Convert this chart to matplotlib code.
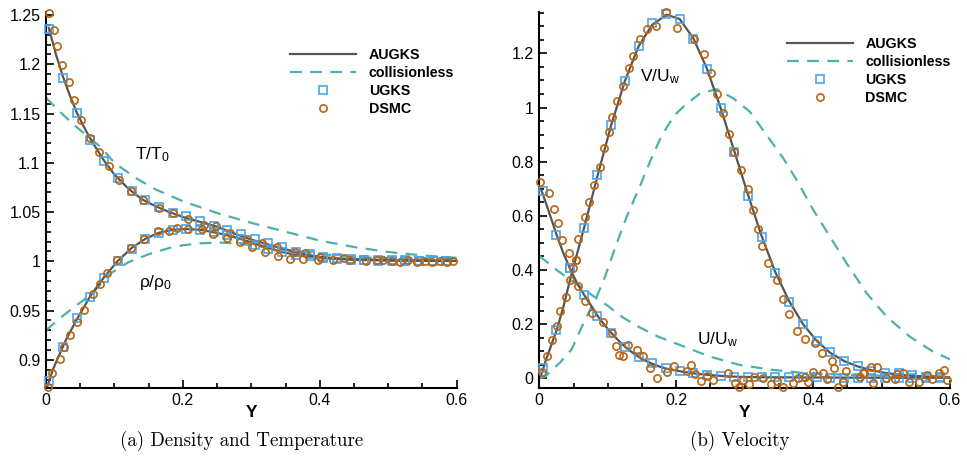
import matplotlib
matplotlib.use('Agg')
import matplotlib.pyplot as plt

plt.rcParams['font.family'] = ['Liberation Sans', 'DejaVu Sans']
plt.rcParams['mathtext.fontset'] = 'custom'
plt.rcParams['mathtext.rm'] = 'Liberation Sans'
plt.rcParams['mathtext.it'] = 'Liberation Sans:italic'
plt.rcParams['lines.scale_dashes'] = False

# ---------------- (a) density and temperature ----------------
# AUGKS temperature
aug_T_y = [0.004, 0.015, 0.025, 0.035, 0.045, 0.055, 0.065, 0.075, 0.085, 0.10, 0.12,
           0.14, 0.16, 0.18, 0.20, 0.22, 0.25, 0.28, 0.30, 0.32, 0.34, 0.36, 0.38,
           0.40, 0.43, 0.46, 0.50, 0.55, 0.60]
aug_T = [1.237, 1.209, 1.187, 1.168, 1.151, 1.137, 1.124, 1.113, 1.102, 1.088, 1.074,
         1.063, 1.056, 1.050, 1.045, 1.041, 1.035, 1.027, 1.022, 1.018, 1.014, 1.010,
         1.0068, 1.0045, 1.0028, 1.002, 1.0012, 1.0008, 1.0005]
# AUGKS density
aug_rho_y = [0.002, 0.01, 0.02, 0.03, 0.045, 0.065, 0.085, 0.105, 0.125, 0.145, 0.165,
             0.185, 0.205, 0.225, 0.245, 0.265, 0.285, 0.305, 0.325, 0.345, 0.365,
             0.385, 0.41, 0.45, 0.50, 0.60]
aug_rho = [0.873, 0.890, 0.906, 0.9215, 0.941, 0.965, 0.984, 1.0005, 1.0135, 1.0228, 1.029,
           1.032, 1.0328, 1.032, 1.0295, 1.0265, 1.0225, 1.018, 1.0135, 1.0095, 1.0065,
           1.0045, 1.003, 1.0015, 1.0008, 1.0004]
# collisionless temperature / density
free_T_y = [0.0, 0.02, 0.04, 0.064, 0.08, 0.10, 0.13, 0.16, 0.20, 0.25, 0.30, 0.35,
            0.40, 0.45, 0.50, 0.55, 0.60]
free_T = [1.166, 1.152, 1.139, 1.125, 1.116, 1.100, 1.085, 1.073, 1.061, 1.049, 1.039,
          1.030, 1.021, 1.0145, 1.0095, 1.006, 1.0035]
free_rho_y = [0.0, 0.02, 0.04, 0.055, 0.075, 0.095, 0.12, 0.15, 0.18, 0.20, 0.225,
              0.255, 0.28, 0.32, 0.36, 0.40, 0.45, 0.50, 0.55, 0.60]
free_rho = [0.930, 0.942, 0.953, 0.9607, 0.973, 0.988, 0.999, 1.0072, 1.0135, 1.0163,
            1.0183, 1.019, 1.018, 1.015, 1.011, 1.0074, 1.0045, 1.003, 1.0025, 1.002]
# UGKS
ugks_y = [0.005, 0.025, 0.045, 0.065, 0.085, 0.105, 0.125, 0.145, 0.165, 0.185, 0.205,
          0.225, 0.245, 0.265, 0.285, 0.305, 0.325, 0.345, 0.365, 0.385, 0.405, 0.425,
          0.445, 0.465, 0.485, 0.505, 0.525, 0.545, 0.565, 0.585]
ugks_T = [1.236, 1.186, 1.151, 1.1234, 1.1018, 1.0843, 1.0714, 1.0622, 1.0554, 1.0487,
          1.046, 1.0412, 1.0358, 1.0318, 1.0274, 1.0223, 1.0183, 1.0142, 1.0095, 1.0075,
          1.0047, 1.003, 1.002, 1.0015, 1.0012, 1.001, 1.001, 1.0008, 1.0008, 1.0006]
ugks_rho = [0.879, 0.9133, 0.942, 0.964, 0.9834, 1.0003, 1.013, 1.0225, 1.029, 1.032,
            1.0328, 1.032, 1.030, 1.027, 1.023, 1.0165, 1.0122, 1.009, 1.0068, 1.005,
            1.0035, 1.0025, 1.0015, 1.001, 1.0007, 1.0006, 1.0005, 1.0005, 1.0005, 1.0005]
# DSMC
dsmc_T_y = [0.005, 0.011, 0.0165, 0.024, 0.033, 0.041, 0.051, 0.064, 0.078, 0.092, 0.107,
            0.124, 0.142, 0.165, 0.186, 0.208, 0.231, 0.249, 0.269, 0.293, 0.315, 0.337,
            0.364, 0.378, 0.400, 0.435, 0.483, 0.505, 0.529, 0.5537, 0.5756, 0.595]
dsmc_T = [1.2524, 1.2348, 1.219, 1.1993, 1.1823, 1.1638, 1.1434, 1.1255, 1.1108, 1.0965,
          1.0825, 1.0714, 1.0622, 1.0544, 1.0487, 1.043, 1.0369, 1.0358, 1.029, 1.0223,
          1.0183, 1.0148, 1.0097, 1.0081, 1.0047, 1.003, 1.0013, 1.0006, 1.0013, 1.0003,
          1.0006, 1.0006]
dsmc_rho_y = [0.003, 0.009, 0.0205, 0.027, 0.035, 0.046, 0.056, 0.068, 0.079, 0.089, 0.104,
              0.124, 0.143, 0.164, 0.179, 0.192, 0.208, 0.2275, 0.2445, 0.264, 0.2834,
              0.3005, 0.320, 0.339, 0.3565, 0.376, 0.398, 0.4197, 0.4447, 0.468, 0.493,
              0.517, 0.5415, 0.5634, 0.5853]
dsmc_rho = [0.8727, 0.8869, 0.9005, 0.9127, 0.9252, 0.9387, 0.9506, 0.9668, 0.977, 0.9884,
            1.0013, 1.014, 1.0228, 1.0311, 1.0311, 1.0335, 1.0328, 1.0325, 1.028, 1.024,
            1.0199, 1.0145, 1.0094, 1.0054, 1.002, 1.002, 1.0013, 1.0013, 1.0013, 1.0006,
            1.0013, 0.9996, 0.999, 0.9996, 0.999]

# ---------------- (b) velocity ----------------
aug_V_y = [0.0025, 0.01, 0.0254, 0.035, 0.045, 0.065, 0.085, 0.105, 0.125, 0.145, 0.165,
           0.186, 0.205, 0.225, 0.245, 0.265, 0.285, 0.305, 0.325, 0.345, 0.365, 0.385,
           0.405, 0.425, 0.445, 0.465, 0.485, 0.505, 0.53, 0.56, 0.60]
aug_V = [0.01, 0.07, 0.178, 0.262, 0.365, 0.552, 0.747, 0.935, 1.098, 1.226, 1.306,
         1.343, 1.327, 1.256, 1.143, 0.998, 0.838, 0.677, 0.524, 0.391, 0.285, 0.201,
         0.139, 0.094, 0.064, 0.044, 0.030, 0.020, 0.012, 0.007, 0.004]
aug_U_y = [0.003, 0.01, 0.0254, 0.035, 0.0448, 0.055, 0.0658, 0.075, 0.0853, 0.0955,
           0.1057, 0.1155, 0.1252, 0.135, 0.1447, 0.155, 0.1651, 0.175, 0.185, 0.2055,
           0.225, 0.245, 0.265, 0.285, 0.32, 0.40, 0.50, 0.60]
aug_U = [0.695, 0.645, 0.529, 0.463, 0.406, 0.352, 0.307, 0.271, 0.230, 0.196, 0.166,
         0.140, 0.117, 0.097, 0.080, 0.065, 0.0535, 0.044, 0.036, 0.026, 0.0185, 0.013,
         0.009, 0.006, 0.004, 0.003, 0.002, 0.002]
free_V_y = [0.0, 0.0083, 0.0302, 0.0473, 0.062, 0.074, 0.0838, 0.096, 0.113, 0.1277,
            0.1496, 0.1617, 0.179, 0.1977, 0.2129, 0.2348, 0.2592, 0.2834, 0.3078,
            0.3322, 0.3566, 0.3761, 0.4003, 0.4247, 0.449, 0.4783, 0.5075, 0.5415,
            0.5756, 0.60]
free_V = [0.0, 0.006, 0.058, 0.107, 0.19, 0.252, 0.301, 0.375, 0.498, 0.597, 0.725,
          0.80, 0.898, 0.972, 1.009, 1.052, 1.068, 1.034, 0.984, 0.898, 0.812, 0.732,
          0.6215, 0.523, 0.4247, 0.314, 0.2275, 0.1536, 0.098, 0.070]
free_U_y = [0.0, 0.0254, 0.0838, 0.0985, 0.1204, 0.1447, 0.1739, 0.2055, 0.2494, 0.2932,
            0.3419, 0.3907, 0.45, 0.50, 0.55, 0.60]
free_U = [0.452, 0.40, 0.295, 0.2707, 0.2275, 0.1906, 0.1536, 0.123, 0.080, 0.049,
          0.031, 0.0185, 0.013, 0.010, 0.008, 0.006]
ugks_V = [0.037, 0.178, 0.4085, 0.554, 0.7507, 0.935, 1.098, 1.227, 1.311, 1.345, 1.326,
          1.252, 1.141, 0.997, 0.837, 0.673, 0.5207, 0.39, 0.283, 0.2005, 0.139, 0.096,
          0.064, 0.0454, 0.028, 0.0207, 0.0185, 0.012, 0.0063, 0.0037]
ugks_U = [0.69, 0.529, 0.4085, 0.308, 0.230, 0.166, 0.117, 0.080, 0.0553, 0.037, 0.027,
          0.0185, 0.0122, 0.0086, 0.006, 0.004, 0.003, 0.003, 0.003, 0.003, 0.003, 0.002,
          0.002, 0.002, 0.002, 0.002, 0.002, 0.002, 0.002, 0.002]
dsmc_V_y = [0.0035, 0.0108, 0.0181, 0.0254, 0.0302, 0.039, 0.0448, 0.0487, 0.0536, 0.057,
            0.0668, 0.0726, 0.0804, 0.0887, 0.095, 0.1018, 0.1067, 0.113, 0.1227, 0.1315,
            0.1364, 0.1471, 0.1569, 0.170, 0.1847, 0.2007, 0.2259, 0.2405, 0.2504, 0.260,
            0.2688, 0.2771, 0.2844, 0.2942, 0.3044, 0.3126, 0.320, 0.3249, 0.3346, 0.3468,
            0.3566, 0.3653, 0.3769, 0.3882, 0.4028, 0.4126, 0.4272, 0.430, 0.4481, 0.4724,
            0.4846, 0.4929, 0.5221, 0.5309, 0.566, 0.5844, 0.5917]
dsmc_V = [0.024, 0.082, 0.141, 0.194, 0.25, 0.3015, 0.363, 0.406, 0.437, 0.513, 0.594,
          0.652, 0.714, 0.781, 0.849, 0.908, 0.964, 1.024, 1.0805, 1.147, 1.191, 1.252,
          1.289, 1.302, 1.352, 1.295, 1.253, 1.196, 1.126, 1.05, 0.979, 0.901, 0.835,
          0.770, 0.699, 0.6215, 0.551, 0.4886, 0.427, 0.363, 0.292, 0.237, 0.175, 0.145,
          0.1315, 0.0945, 0.064, 0.037, 0.027, 0.0207, 0.0428, 0.0428, 0.0148, 0.0207,
          0.012, 0.0207, 0.0306]
dsmc_U_y = [0.001, 0.0142, 0.0219, 0.0278, 0.0327, 0.0438, 0.0532, 0.0561, 0.0668, 0.0775,
            0.0935, 0.1057, 0.112, 0.1164, 0.1227, 0.130, 0.1423, 0.152, 0.1617, 0.1714,
            0.1861, 0.1972, 0.2153, 0.2216, 0.2275, 0.2358, 0.2454, 0.2542, 0.2761, 0.2859,
            0.2922, 0.2971, 0.3068, 0.3137, 0.3264, 0.3381, 0.3477, 0.3565, 0.3702, 0.3784,
            0.3882, 0.393, 0.4003, 0.4149, 0.4198, 0.4368, 0.4441, 0.4684, 0.4742, 0.488,
            0.5065, 0.5197, 0.5405, 0.555, 0.5733, 0.5951]
dsmc_U = [0.726, 0.685, 0.624, 0.575, 0.511, 0.4616, 0.437, 0.341, 0.287, 0.2424, 0.2068,
          0.166, 0.119, 0.086, 0.0835, 0.123, 0.1045, 0.0823, 0.0369, 0.0, 0.022, 0.0465,
          0.028, 0.049, 0.0159, -0.01, 0.0085, -0.006, 0.0207, -0.016, -0.031, -0.006,
          -0.021, 0.0037, 0.002, -0.021, -0.01, -0.031, -0.016, 0.002, 0.006, -0.0125,
          0.0244, 0.0185, -0.0037, -0.031, -0.0125, 0.006, 0.0185, -0.0185, 0.0, -0.0037,
          -0.0125, -0.0125, -0.0037, -0.006]

# ---------------- style ----------------
C_AUGKS = '#555555'
C_FREE = '#4db1ab'
C_UGKS = '#47a5f2'
C_DSMC = '#bb640f'
LW = 1.6
DASH = (8.5, 6.0)
MS = 5.2

fig = plt.figure(figsize=(9.67, 4.61), dpi=100)
ax1 = fig.add_axes([46 / 967, 73.3 / 461, 410.7 / 967, 376 / 461])
ax2 = fig.add_axes([539.3 / 967, 73.3 / 461, 410.7 / 967, 376 / 461])


def curves(ax, y_aug, v_aug, y_free, v_free, y_u, v_u, y_d, v_d, labelled):
    ax.plot(y_aug, v_aug, color=C_AUGKS, lw=LW, zorder=3,
            label='AUGKS' if labelled else None)
    ax.plot(y_free, v_free, color=C_FREE, lw=LW, dashes=DASH, zorder=2,
            label='collisionless' if labelled else None)
    ax.plot(y_u, v_u, ls='none', marker='s', ms=MS, mfc='none', mec=C_UGKS, mew=1.2,
            zorder=4, clip_on=False, label='UGKS' if labelled else None)
    ax.plot(y_d, v_d, ls='none', marker='o', ms=MS, mfc='none', mec=C_DSMC, mew=1.2,
            zorder=5, clip_on=False, label='DSMC' if labelled else None)


curves(ax1, aug_T_y, aug_T, free_T_y, free_T, ugks_y, ugks_T, dsmc_T_y, dsmc_T, True)
curves(ax1, aug_rho_y, aug_rho, free_rho_y, free_rho, ugks_y, ugks_rho,
       dsmc_rho_y, dsmc_rho, False)
curves(ax2, aug_V_y, aug_V, free_V_y, free_V, ugks_y, ugks_V, dsmc_V_y, dsmc_V, True)
curves(ax2, aug_U_y, aug_U, free_U_y, free_U, ugks_y, ugks_U, dsmc_U_y, dsmc_U, False)

x_ticks = [0, 0.2, 0.4, 0.6]
x_labels = ['0', '0.2', '0.4', '0.6']
rho_ticks = [0.9, 0.95, 1.0, 1.05, 1.1, 1.15, 1.2, 1.25]
rho_labels = ['0.9', '0.95', '1', '1.05', '1.1', '1.15', '1.2', '1.25']
vel_ticks = [0, 0.2, 0.4, 0.6, 0.8, 1.0, 1.2]
vel_labels = ['0', '0.2', '0.4', '0.6', '0.8', '1', '1.2']

ax1.set_xlim(0, 0.6)
ax1.set_ylim(0.8717, 1.2534)
ax1.set_yticks(rho_ticks, rho_labels)
ax1.yaxis.set_minor_locator(plt.MultipleLocator(0.01))
ax2.set_xlim(0, 0.6)
ax2.set_ylim(-0.0347, 1.354)
ax2.set_yticks(vel_ticks, vel_labels)
ax2.yaxis.set_minor_locator(plt.MultipleLocator(0.05))

for ax in (ax1, ax2):
    ax.set_xticks(x_ticks, x_labels)
    ax.xaxis.set_minor_locator(plt.MultipleLocator(0.05))
    for s in ('top', 'right'):
        ax.spines[s].set_visible(False)
    for s in ('left', 'bottom'):
        ax.spines[s].set_linewidth(1.5)
    ax.tick_params(which='both', direction='in', width=1.2, labelsize=11.5,
                   top=False, right=False)
    ax.tick_params(which='major', length=6, pad=4)
    ax.tick_params(which='minor', length=3.5)
    ax.set_xlabel('Y', fontsize=12.5, fontweight='bold', labelpad=-2)
    ax.patch.set_visible(False)

leg_kw = dict(frameon=False, loc='upper left', borderpad=0, borderaxespad=0,
              handlelength=4.6, handletextpad=0.9, labelspacing=0.28, numpoints=1,
              prop={'weight': 'bold', 'size': 10.3})
ax1.legend(bbox_to_anchor=(0.594, 0.904), **leg_kw)
ax2.legend(bbox_to_anchor=(0.6024, 0.934), **leg_kw)

ax1.text(0.1556, 1.108, r'$\mathregular{T/T_0}$', fontsize=12.5, ha='center', va='center')
ax1.text(0.1607, 0.979, r'$\mathregular{ρ/ρ_0}$', fontsize=12.5, ha='center', va='center')
ax2.text(0.1763, 1.1126, r'$\mathregular{V/U_w}$', fontsize=12.5, ha='center', va='center')
ax2.text(0.2607, 0.1414, r'$\mathregular{U/U_w}$', fontsize=12.5, ha='center', va='center')

fig.text(241.5 / 967, 1 - 441 / 461, '(a) Density and Temperature', family='cmr10',
         fontsize=13.6, ha='center', va='center')
fig.text(740 / 967, 1 - 441 / 461, '(b) Velocity', family='cmr10',
         fontsize=13.6, ha='center', va='center')

fig.savefig('out.png', dpi=100)
